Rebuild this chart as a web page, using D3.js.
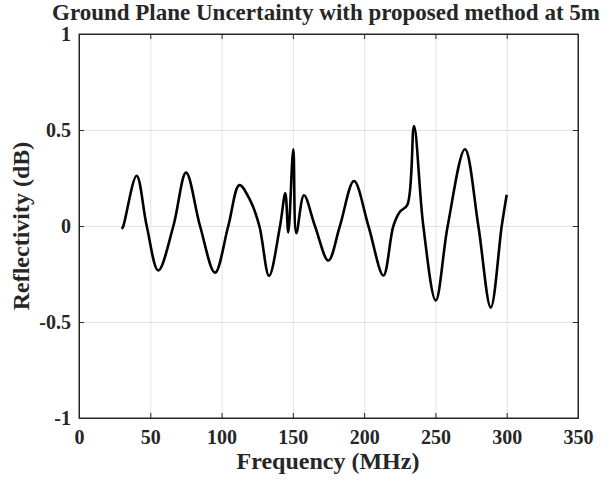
<!DOCTYPE html>
<html>
<head>
<meta charset="utf-8">
<script src="https://cdn.jsdelivr.net/npm/d3@7"></script>
<style>
  body { margin: 0; background: #fff; }
  .grid line { stroke: #e3e3e3; stroke-width: 1; }
  .grid path { display: none; }
  text { font-family: "Liberation Serif", "Times New Roman", serif; font-weight: bold; fill: #262626; }
</style>
</head>
<body>
<div id="chart"></div>
<script>
// frequency (MHz): peaks, dips, zero crossings, shoulders
const freq = [30, 31.1, 40.4, 47.5, 55.6, 66.2, 75.1, 84.9, 95.4, 104.7, 112.5, 120, 126.5, 133.3,
  141, 144.7, 146.8, 150.3, 152.4, 157.8, 165.5, 174.9, 183, 192.9, 203, 213.5, 220.5, 225.2,
  230.3, 235, 241.5, 250.2, 258.6, 270.7, 280.1, 288.8, 296.5, 300];
// reflectivity (dB)
const refl = [-0.015, 0, 0.262, 0, -0.232, 0, 0.278, 0, -0.243, 0, 0.213, 0.135, 0, -0.26,
  0, 0.17, -0.033, 0.40, -0.038, 0.16, 0, -0.18, 0, 0.234, 0, -0.258, 0, 0.075,
  0.11, 0.52, 0, -0.388, 0, 0.40, 0, -0.425, 0, 0.163];

const xTicks = [0, 50, 100, 150, 200, 250, 300, 350];
const yTicks = [-1, -0.5, 0, 0.5, 1];
const titleText = 'Ground Plane Uncertainty with proposed method at 5m';
const xLabel = 'Frequency (MHz)';
const yLabel = 'Reflectivity (dB)';

const width = 614, height = 482;
const margin = { top: 34, right: 36, bottom: 64, left: 79 };
const w = width - margin.left - margin.right;
const h = height - margin.top - margin.bottom;

const svg = d3.select('#chart').append('svg')
  .attr('width', width)
  .attr('height', height);

const g = svg.append('g')
  .attr('transform', 'translate(' + margin.left + ',' + margin.top + ')');

const x = d3.scaleLinear().domain([0, 350]).range([0, w]);
const y = d3.scaleLinear().domain([-1, 1]).range([h, 0]);

// grid
g.append('g').attr('class', 'grid')
  .attr('transform', 'translate(0,' + h + ')')
  .call(d3.axisBottom(x).tickValues(xTicks).tickSize(-h).tickFormat(''));
g.append('g').attr('class', 'grid')
  .call(d3.axisLeft(y).tickValues(yTicks).tickSize(-w).tickFormat(''));

// curve
const pts = freq.map((f, i) => ({ f: f, v: refl[i] }));
const line = d3.line()
  .x(d => x(d.f))
  .y(d => y(d.v))
  .curve(d3.curveCatmullRom.alpha(0.5));
g.append('path')
  .datum(pts)
  .attr('fill', 'none')
  .attr('stroke', '#000')
  .attr('stroke-width', 2.6)
  .attr('stroke-linejoin', 'round')
  .attr('d', line);

// axes with inward ticks
const fmt = d => String(d);
const xAxis = g.append('g')
  .attr('transform', 'translate(0,' + h + ')')
  .call(d3.axisBottom(x).tickValues(xTicks).tickSizeInner(-5).tickSizeOuter(0).tickPadding(12).tickFormat(fmt));
const yAxis = g.append('g')
  .call(d3.axisLeft(y).tickValues(yTicks).tickSizeInner(-5).tickSizeOuter(0).tickPadding(8).tickFormat(fmt));
g.append('g')
  .call(d3.axisTop(x).tickValues(xTicks).tickSizeInner(-5).tickSizeOuter(0).tickFormat(''));
g.append('g')
  .attr('transform', 'translate(' + w + ',0)')
  .call(d3.axisRight(y).tickValues(yTicks).tickSizeInner(-5).tickSizeOuter(0).tickFormat(''));

g.selectAll('.domain').attr('stroke', '#262626');
g.selectAll('.tick line').filter(function () { return !this.closest('.grid'); }).attr('stroke', '#262626');
[xAxis, yAxis].forEach(a => a.selectAll('text')
  .style('font-size', '20px')
  .style('font-family', '"Liberation Serif", serif')
  .style('font-weight', 'bold')
  .attr('fill', '#262626'));
xAxis.selectAll('text').attr('dy', '0.71em');

// frame box
g.append('rect')
  .attr('width', w).attr('height', h)
  .attr('fill', 'none')
  .attr('stroke', '#262626')
  .attr('stroke-width', 1);

// title and labels
svg.append('text')
  .attr('x', 326)
  .attr('y', 20)
  .attr('text-anchor', 'middle')
  .style('font-size', '23px')
  .attr('fill', '#000')
  .text(titleText);

svg.append('text')
  .attr('x', 328)
  .attr('y', 469)
  .attr('text-anchor', 'middle')
  .style('font-size', '24px')
  .text(xLabel);

svg.append('text')
  .attr('transform', 'translate(29,' + (margin.top + h / 2) + ') rotate(-90)')
  .attr('text-anchor', 'middle')
  .style('font-size', '24px')
  .text(yLabel);
</script>
</body>
</html>
